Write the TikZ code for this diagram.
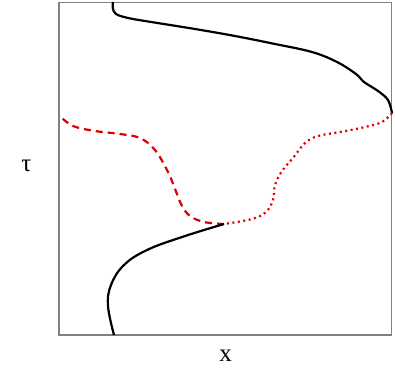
\documentclass[tikz,border=0pt]{standalone}
\usepackage{fontspec}
\setmainfont{Liberation Serif}
\definecolor{curvered}{RGB}{220,0,0}
\definecolor{framegray}{RGB}{128,128,128}
\tikzset{
  frame/.style={draw=framegray, line width=1.2pt},
  solidcurve/.style={black, line width=2.2pt},
  dashcurve/.style={curvered, line width=2.2pt, dash pattern=on 7pt off 5pt},
  dotcurve/.style={curvered, line width=2.2pt, dash pattern=on 2pt off 3.5pt},
  lab/.style={font=\fontsize{25}{27}\selectfont, inner sep=0pt}
}
\begin{document}
\begin{tikzpicture}[x=1pt,y=-1pt]
\useasboundingbox (0,0) rectangle (395,381);
\draw[frame] (59,2.5) rectangle (391.5,335);
\draw[solidcurve] plot[smooth, tension=0.6] coordinates {(113,2) (112.8,8) (116,14) (128,18) (145,21) (195,29) (235,36) (275,44) (312,52) (337,62) (356,74) (364,82) (378,91) (388,100) (392,113)};
\draw[dotcurve] plot[smooth, tension=0.6] coordinates {(392,113) (382,122) (365,127) (340,132) (318,136) (305,143) (293,158) (282,171) (275,185) (273,200) (266,212) (252,219) (224,224)};
\draw[dashcurve] plot[smooth, tension=0.6] coordinates {(224,224) (204,222) (190,216) (182,206) (177,194) (168,172) (155,150) (140,138) (120,134) (95,131) (73,126) (61,117)};
\draw[solidcurve] plot[smooth, tension=0.65] coordinates {(224,224) (182,237) (147,250) (124,265) (111,285) (108,306) (114,335)};
\node[lab] (tau) at (26.5,166) {τ};
\node[lab] (xl) at (225.5,356) {x};
\end{tikzpicture}
\end{document}
